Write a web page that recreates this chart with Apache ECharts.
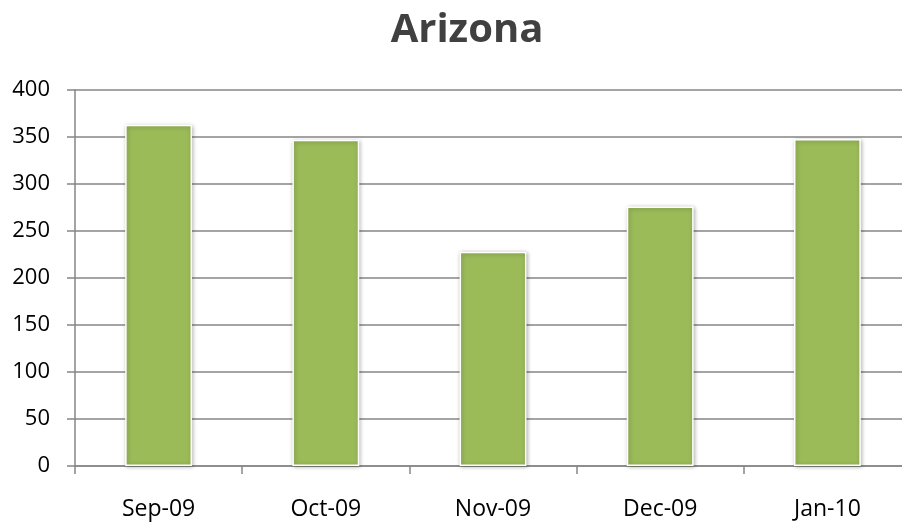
<!DOCTYPE html>
<html>
<head>
<meta charset="utf-8">
<style>
  html, body { margin: 0; padding: 0; background: #fff; }
  #chart { width: 902px; height: 523px; }
</style>
<script src="https://cdn.jsdelivr.net/npm/echarts@6/dist/echarts.min.js"></script>
</head>
<body>
<div id="chart"></div>
<script>
// months along the x axis
const months = ['Sep-09', 'Oct-09', 'Nov-09', 'Dec-09', 'Jan-10']
// values
const arizonaValues = [363, 347, 228, 276, 348]
// y axis range
const yMin = 0
const yMax = 400
const yStep = 50

const chart = echarts.init(document.getElementById('chart'))
const font = '"Open Sans", "Noto Sans", sans-serif'

chart.setOption({
  animation: false,
  title: {
    text: 'Arizona',
    left: 462,
    textAlign: 'center',
    top: 6,
    textStyle: {
      fontFamily: font,
      fontSize: 40,
      fontWeight: 'bold',
      color: '#404040'
    }
  },
  // plot runs past the right edge in the original, so no bounds clamping
  grid: {
    left: 75,
    top: 90,
    width: 836,
    height: 376,
    outerBoundsMode: 'none'
  },
  xAxis: {
    type: 'category',
    data: months,
    axisLine: { lineStyle: { color: '#868686', width: 1.5 } },
    axisTick: { show: true, alignWithLabel: false, length: 8, lineStyle: { color: '#868686', width: 1.5 } },
    axisLabel: { color: '#000', fontFamily: font, fontSize: 23, margin: 32 }
  },
  yAxis: {
    type: 'value',
    min: yMin,
    max: yMax,
    interval: yStep,
    axisLine: { show: true, lineStyle: { color: '#868686', width: 1.5 } },
    axisTick: { show: true, length: 8, lineStyle: { color: '#868686', width: 1.5 } },
    axisLabel: { color: '#000', fontFamily: font, fontSize: 22, margin: 25 },
    splitLine: { lineStyle: { color: '#868686', width: 1.5 } }
  },
  series: [
    {
      type: 'bar',
      data: arizonaValues,
      barWidth: '40%',
      itemStyle: {
        color: '#9BBB59',
        borderColor: '#ffffff',
        borderWidth: 1.5,
        shadowColor: 'rgba(0,0,0,0.3)',
        shadowBlur: 4,
        shadowOffsetX: 1,
        shadowOffsetY: 1
      }
    }
  ]
})
</script>
</body>
</html>
